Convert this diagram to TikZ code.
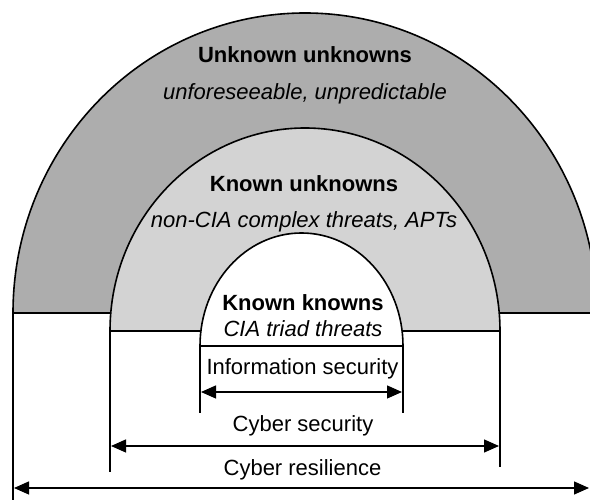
\documentclass[tikz,border=0pt]{standalone}
\usepackage{fontspec}
\setmainfont{Liberation Sans}
\usetikzlibrary{arrows.meta}
\definecolor{darkg}{RGB}{173,173,173}
\definecolor{lightg}{RGB}{211,211,211}
\begin{document}
\begin{tikzpicture}[x=1pt,y=1pt,
  arch/.style={draw=black,line width=1.6pt},
  vline/.style={draw=black,line width=1.3pt},
  dimarrow/.style={line width=1.3pt,{Triangle[length=15pt,width=13pt]}-{Triangle[length=15pt,width=13pt]}},
  lbl/.style={anchor=base,inner sep=0pt,font=\fontsize{22}{26}\selectfont},
  blbl/.style={lbl,font=\fontsize{22}{26}\selectfont\bfseries},
  ilbl/.style={lbl,font=\fontsize{22}{26}\selectfont\itshape}]
\useasboundingbox (0,0) rectangle (590,500);
\clip (0,0) rectangle (590,500);
% arches
\filldraw[arch,fill=darkg] (13,187) arc[start angle=180,end angle=0,x radius=292,y radius=300] -- cycle;
\filldraw[arch,fill=lightg] (110,169) arc[start angle=180,end angle=0,x radius=195,y radius=203] -- cycle;
\filldraw[arch,fill=white] (200,154) arc[start angle=180,end angle=0,x radius=101.5,y radius=113] -- cycle;
% vertical guide lines
\coordinate (oLt) at (13,187);   \coordinate (oLb) at (13,0);
\coordinate (mLt) at (110,169);  \coordinate (mLb) at (110,28);
\coordinate (mRt) at (500,169);  \coordinate (mRb) at (500,33);
\coordinate (iLt) at (200,154);  \coordinate (iLb) at (200,87);
\coordinate (iRt) at (403,154);  \coordinate (iRb) at (403,87);
\draw[vline] (oLt) -- (oLb);
\draw[vline] (mLt) -- (mLb);
\draw[vline] (mRt) -- (mRb);
\draw[vline] (iLt) -- (iLb);
\draw[vline] (iRt) -- (iRb);
% dimension arrows
\coordinate (isL) at (201,108); \coordinate (isR) at (402,108);
\coordinate (csL) at (111,54);  \coordinate (csR) at (499,54);
\coordinate (crL) at (14,12);   \coordinate (crR) at (589,12);
\draw[dimarrow] (isL) -- (isR);
\draw[dimarrow] (csL) -- (csR);
\draw[dimarrow] (crL) -- (crR);
% labels
\node[blbl] (uu) at (305,437) {Unknown unknowns};
\node[ilbl] (uud) at (305,400) {unforeseeable, unpredictable};
\node[blbl] (ku) at (304,308) {Known unknowns};
\node[ilbl] (kud) at (304,272) {non-CIA complex threats, APTs};
\node[blbl] (kk) at (303,189.3) {Known knowns};
\node[ilbl] (kkd) at (303,163.3) {CIA triad threats};
\node[lbl] (is) at (302.5,125) {Information security};
\node[lbl] (cs) at (303,68) {Cyber security};
\node[lbl] (cr) at (302.5,24) {Cyber resilience};
\end{tikzpicture}
\end{document}
